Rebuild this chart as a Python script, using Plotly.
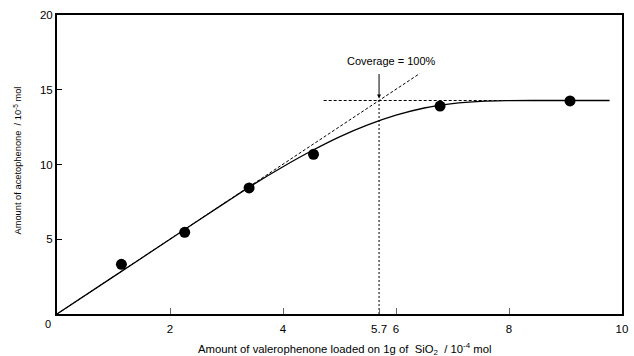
import plotly.graph_objects as go

# Measured points: valerophenone loaded (1e-4 mol) vs acetophenone formed (1e-5 mol)
loaded = [1.14, 2.26, 3.40, 4.54, 6.78, 9.08]
acetophenone = [3.32, 5.46, 8.43, 10.68, 13.91, 14.25]

# Smooth fitted curve through the data
curve_x = [0, 1, 2, 3, 3.5, 4, 4.5, 5, 5.5, 6, 6.5, 7, 7.5, 8, 8.5, 9, 9.78]
curve_y = [0, 2.5, 5.0, 7.5, 8.72, 9.85, 10.9, 11.85, 12.65, 13.3, 13.78, 14.07, 14.22, 14.27, 14.28, 14.28, 14.28]

# Initial-slope tangent, plateau level and full-coverage loading
tangent_x = [0, 6.42]
plateau = 14.28
coverage_x = 5.7
tangent_slope = plateau / coverage_x

x_ticks = [2, 4, 5.7, 6, 8, 10]
x_tick_text = ["2", "4", "5.7", "6", "8", "10"]
y_ticks = [5, 10, 15, 20]
y_tick_text = ["5", "10", "15", "20"]

FONT = "Arial, 'Liberation Sans', Helvetica, sans-serif"

fig = go.Figure()

# Tangent line from the origin
fig.add_trace(go.Scatter(
    x=tangent_x, y=[tangent_slope * v for v in tangent_x], mode="lines",
    line=dict(color="black", width=1, dash="3px,2px"), hoverinfo="skip"))
# Plateau level
fig.add_trace(go.Scatter(
    x=[4.72, 8.0], y=[plateau, plateau], mode="lines",
    line=dict(color="black", width=1, dash="3px,2px"), hoverinfo="skip"))
# Vertical line at full coverage
fig.add_trace(go.Scatter(
    x=[coverage_x, coverage_x], y=[0, plateau], mode="lines",
    line=dict(color="black", width=1, dash="2px,2px"), hoverinfo="skip"))
# Fitted curve
fig.add_trace(go.Scatter(
    x=curve_x, y=curve_y, mode="lines", line_shape="spline",
    line=dict(color="black", width=1.3), hoverinfo="skip"))
# Data points
fig.add_trace(go.Scatter(
    x=loaded, y=acetophenone, mode="markers",
    marker=dict(color="black", size=11)))

fig.add_annotation(
    x=coverage_x, y=plateau, xref="x", yref="y",
    ax=0, ay=-28, showarrow=True, arrowhead=2, arrowsize=0.8,
    arrowwidth=1, arrowcolor="black", standoff=2, text="")
fig.add_annotation(
    x=coverage_x, y=plateau, xref="x", yref="y", xshift=12, yshift=40,
    text="Coverage = 100%", showarrow=False,
    font=dict(family=FONT, size=11, color="black"))
# Shared origin label
fig.add_annotation(
    x=0, y=0, xref="x", yref="y", xshift=-9, yshift=-10,
    text="0", showarrow=False,
    font=dict(family=FONT, size=11, color="black"))
# Axis titles
fig.add_annotation(
    x=0.5, y=0, xref="paper", yref="paper", xanchor="center", yanchor="middle",
    yshift=-35, xshift=5,
    text="Amount of valerophenone loaded on 1g of  SiO<sub>2</sub>  / 10<sup>-4</sup> mol",
    showarrow=False, font=dict(family=FONT, size=11.3, color="black"))
fig.add_annotation(
    x=0, y=0.5, xref="paper", yref="paper", xanchor="center", yanchor="middle",
    xshift=-40, yshift=4,
    text="Amount of acetophenone  / 10<sup>-5</sup> mol", textangle=-90,
    showarrow=False, font=dict(family=FONT, size=9.3, color="black"))

fig.update_xaxes(
    range=[0, 10], tickvals=x_ticks, ticktext=x_tick_text,
    ticks="inside", ticklen=6, tickwidth=1, tickcolor="#666",
    ticklabelstandoff=3,
    showline=True, linecolor="black", linewidth=2, mirror=True,
    showgrid=False, zeroline=False,
    tickfont=dict(family=FONT, size=11.5, color="black"))
fig.update_yaxes(
    range=[0, 20], tickvals=y_ticks, ticktext=y_tick_text,
    ticks="inside", ticklen=5, tickwidth=1, tickcolor="black",
    showline=True, linecolor="black", linewidth=2, mirror=True,
    showgrid=False, zeroline=False,
    tickfont=dict(family=FONT, size=11.5, color="black"))

fig.update_layout(
    width=634, height=356,
    margin=dict(l=57, r=6, t=15, b=42),
    paper_bgcolor="white", plot_bgcolor="white",
    showlegend=False)

fig.write_html("out.html")
